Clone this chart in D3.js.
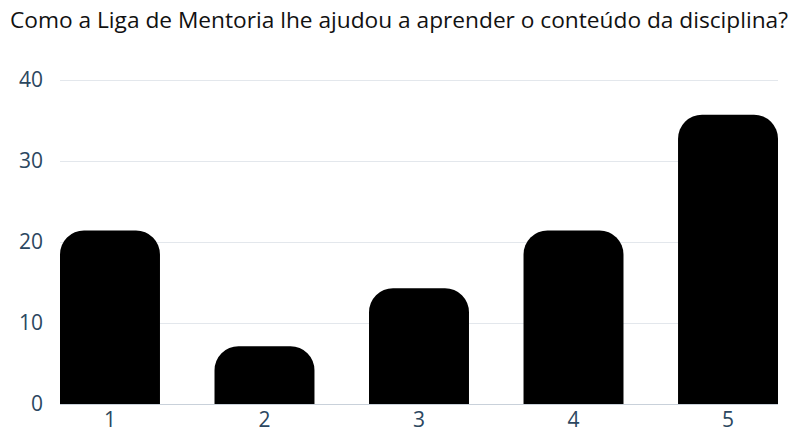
<!DOCTYPE html>
<html>
<head>
<meta charset="utf-8">
<script src="https://cdn.jsdelivr.net/npm/d3@7"></script>
<style>
  body { margin: 0; background: #fff; }
  svg { display: block; font-family: "Open Sans", "Noto Sans", sans-serif; }
</style>
</head>
<body>
<div id="chart"></div>
<script>
const titleText = 'Como a Liga de Mentoria lhe ajudou a aprender o conteúdo da disciplina?';
const categories = ['1', '2', '3', '4', '5'];
const values = [21.43, 7.14, 14.29, 21.43, 35.71];
const yTicks = [0, 10, 20, 30, 40];

const width = 794, height = 434;
const margin = {top: 80, right: 16, bottom: 30, left: 60};
const innerW = width - margin.left - margin.right;
const innerH = 404 - margin.top;
const labelColor = '#2b4760';

const svg = d3.select('#chart')
  .append('svg')
    .attr('width', width)
    .attr('height', height);

// Title (stretched to match the wider original face)
svg.append('text')
  .attr('x', 10)
  .attr('y', 28)
  .attr('fill', '#111')
  .attr('textLength', 778)
  .attr('lengthAdjust', 'spacingAndGlyphs')
  .style('font-size', '21.5px')
  .text(titleText);

const g = svg.append('g')
  .attr('transform', `translate(${margin.left},${margin.top})`);

const x = d3.scaleBand()
  .domain(categories)
  .range([0, innerW])
  .paddingInner(0.353)
  .paddingOuter(0);

const y = d3.scaleLinear()
  .domain([0, 40])
  .range([innerH, 0]);

// Grid lines
g.append('g')
  .selectAll('line')
  .data(yTicks)
  .join('line')
    .attr('x1', 0)
    .attr('x2', innerW)
    .attr('y1', d => y(d) + 0.5)
    .attr('y2', d => y(d) + 0.5)
    .attr('stroke', d => d === 0 ? '#c9d1da' : '#e3e7ec')
    .attr('stroke-width', 1);

// Y axis labels
const yAxis = d3.axisLeft(y).tickValues(yTicks).tickSize(0).tickPadding(17);
g.append('g')
  .call(yAxis)
  .call(a => a.select('.domain').remove())
  .selectAll('text')
    .attr('fill', labelColor)
    .style('font-size', '21px')
    .style('font-family', '"Open Sans", "Noto Sans", sans-serif');

// X axis labels
const xAxis = d3.axisBottom(x).tickSize(0).tickPadding(8);
g.append('g')
  .attr('transform', `translate(0,${innerH})`)
  .call(xAxis)
  .call(a => a.select('.domain').remove())
  .selectAll('text')
    .attr('fill', labelColor)
    .style('font-size', '21px')
    .style('font-family', '"Open Sans", "Noto Sans", sans-serif');

// Bars with rounded top corners
const radius = 24;
function barPath(x0, w, yTop, yBottom) {
  const r = Math.min(radius, w / 2, yBottom - yTop);
  return `M${x0},${yBottom}V${yTop + r}` +
    `A${r},${r} 0 0 1 ${x0 + r},${yTop}` +
    `H${x0 + w - r}` +
    `A${r},${r} 0 0 1 ${x0 + w},${yTop + r}` +
    `V${yBottom}Z`;
}

g.append('g')
  .selectAll('path')
  .data(values)
  .join('path')
    .attr('d', (d, i) => barPath(x(categories[i]), x.bandwidth(), y(d), y(0)))
    .attr('fill', '#000');
</script>
</body>
</html>
